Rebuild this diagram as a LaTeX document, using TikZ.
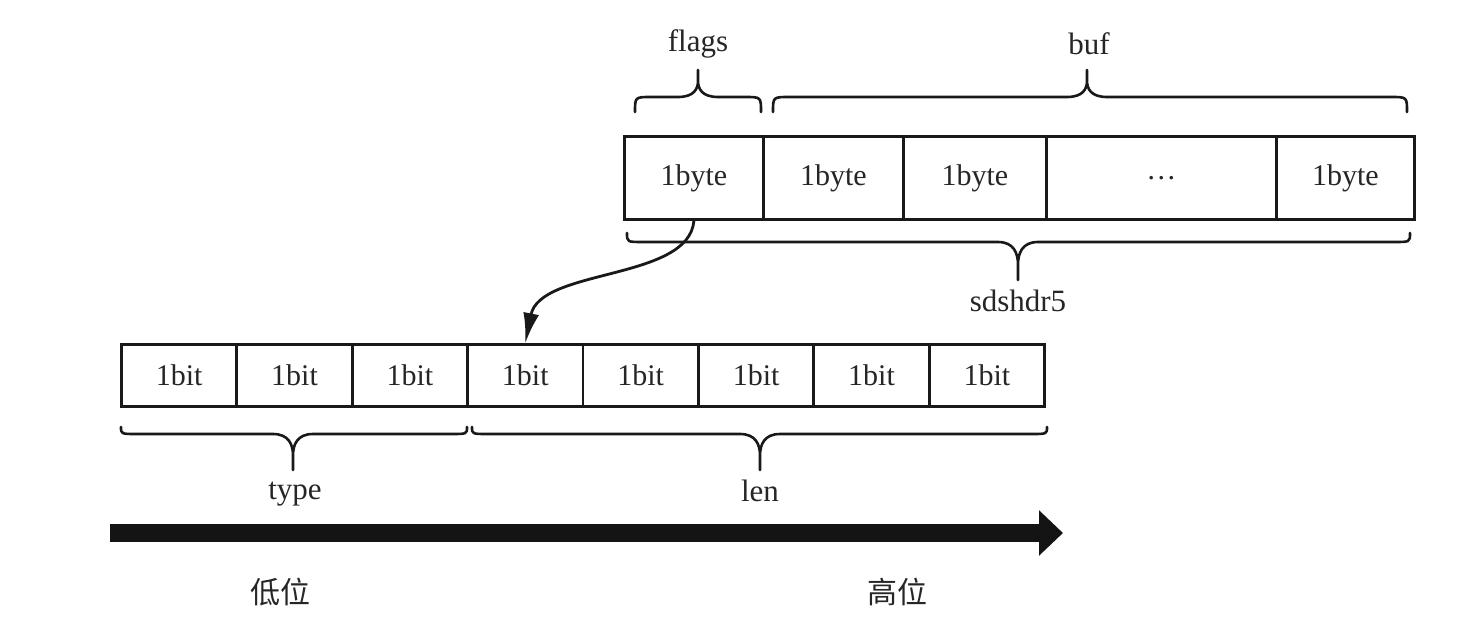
\documentclass[tikz,border=0pt]{standalone}
\usepackage{fontspec}
\setmainfont{Liberation Serif}
\newfontfamily\cjk{Noto Sans CJK SC}
\usetikzlibrary{arrows.meta}

% curly brace: x1, x2, x of tip, y of ends, direction (+1 down, -1 up), curl depth, total depth
\newcommand\brc[7]{%
  \pgfmathsetmacro\brcH{#4+#6*#5}%
  \pgfmathsetmacro\brcS{#4+(#6+0.6*(#7-#6))*#5}%
  \pgfmathsetmacro\brcT{#4+#7*#5}%
  \pgfmathsetmacro\brcM{(\brcH+\brcS)/2}%
  \draw[bracepen] (#1,#4) .. controls (#1,\brcH) .. ({#1+16},\brcH) -- ({#3-20},\brcH)
    .. controls ({#3-4},\brcH) and (#3,\brcM) .. (#3,\brcS) -- (#3,\brcT)
    (#3,\brcS) .. controls (#3,\brcM) and ({#3+4},\brcH) .. ({#3+20},\brcH)
    -- ({#2-16},\brcH) .. controls (#2,\brcH) .. (#2,#4);}

\tikzset{
  txt/.style={font=\fontsize{30}{33}\selectfont, text=black!85, inner sep=0pt},
  bytecell/.style={draw=black!90, line width=2.8pt, minimum height=83pt, inner sep=0pt,
    text height=22pt, text depth=7pt, anchor=north west, txt},
  bitcell/.style={draw=black!90, line width=2.8pt, minimum height=62pt, minimum width=115.4pt,
    inner sep=0pt, anchor=north west, txt},
  bracepen/.style={draw=black!90, line width=2.6pt, line cap=round, line join=round},
  label/.style={font=\fontsize{31}{33}\selectfont, text=black!85, inner sep=0pt},
  cjklabel/.style={font=\cjk\fontsize{30}{32}\selectfont, text=black!85, inner sep=0pt},
}

\begin{document}
\begin{tikzpicture}[x=1pt, y=-1pt]
\useasboundingbox (0,0) rectangle (1474,632);

% sdshdr5 bytes
\node[bytecell, minimum width=139pt] (t1) at (623,135) {1byte};
\node[bytecell, minimum width=140pt] (t2) at (762,135) {1byte};
\node[bytecell, minimum width=143pt] (t3) at (902,135) {1byte};
\node[bytecell, minimum width=230pt] (t4) at (1045,135) {\raisebox{6pt}{…}};
\node[bytecell, minimum width=138pt] (t5) at (1275,135) {1byte};

% flags bits
\foreach \i in {0,...,7}
  \node[bitcell] (b\i) at ({120+115.4*\i},343) {1bit};

% braces and their labels
\brc{635}{761}{698}{112}{-1}{15}{42}
\node[label] (flags) at (698,44) {flags};
\brc{773}{1407}{1087}{112}{-1}{15}{42}
\node[label] (buf) at (1089,44) {buf};
\brc{627}{1410}{1018}{233}{1}{9}{47}
\node[label] (hdr) at (1018,301) {sdshdr5};
\brc{121}{467}{293}{427}{1}{7}{43}
\node[label] (type) at (295,494) {type};
\brc{472}{1047}{760}{427}{1}{7}{43}
\node[label] (len) at (760,491) {len};

% flags byte expands into its bits
\draw[draw=black!90, line width=2.8pt, -{Latex[length=30pt,width=16pt]}]
  (t1.south) .. controls +(-5,60) and +(15,-75) .. (b3.north);

% bit order axis
\coordinate (lo) at (110,533);
\coordinate (hi) at (1063,533);
\draw[black!92, line width=18pt, -{Triangle[length=24pt,width=44pt]}] (lo) -- (hi);
\node[cjklabel] (low) at (280,592) {低位};
\node[cjklabel] (high) at (897,592) {高位};
\end{tikzpicture}
\end{document}
